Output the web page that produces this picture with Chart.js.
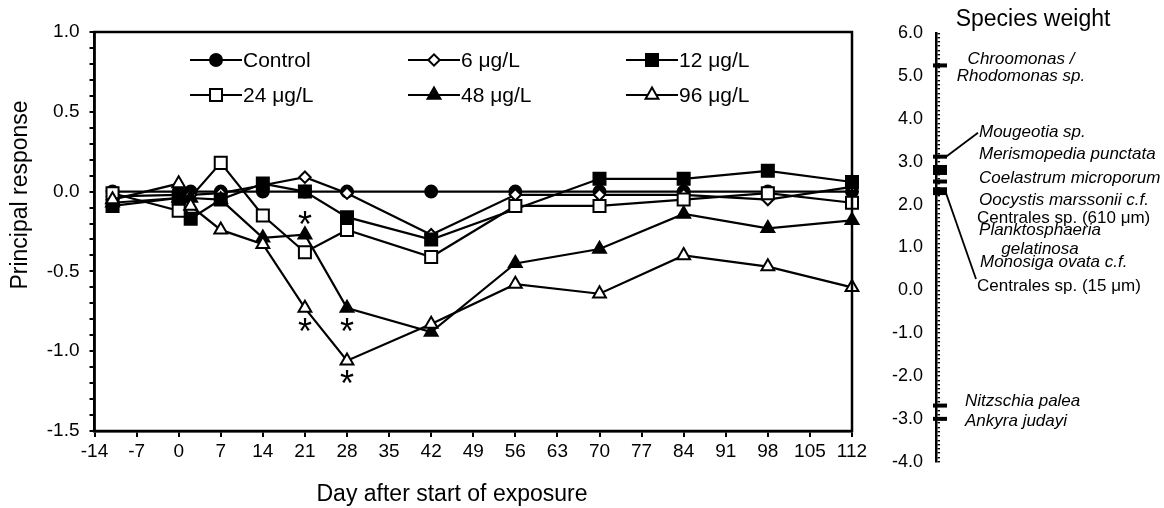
<!DOCTYPE html>
<html>
<head>
<meta charset="utf-8">
<script src="https://cdn.jsdelivr.net/npm/chart.js@4.4.1/dist/chart.umd.min.js"></script>
<style>
  html, body { margin: 0; padding: 0; background: #fff; }
  #wrap { position: relative; width: 1164px; height: 508px; }
  canvas { position: absolute; top: 0; }
  #prc { left: 0; }
  #weights { left: 880px; }
</style>
</head>
<body>
<div id="wrap">
  <canvas id="prc" width="880" height="508"></canvas>
  <canvas id="weights" width="284" height="508"></canvas>
</div>
<script>
const FONT = '"Liberation Sans", Arial, Helvetica, sans-serif';

// ---- Principal response curves ----
const days = [-11, 0, 2, 7, 14, 21, 28, 42, 56, 70, 84, 98, 112];
const seriesNames = ['Control', '6 μg/L', '12 μg/L', '24 μg/L', '48 μg/L', '96 μg/L'];
const control = [0, 0, 0, 0, 0, 0, 0, 0, 0, 0, 0, 0, 0];
const conc6   = [-0.03, -0.02, -0.02, -0.01, 0.04, 0.09, -0.01, -0.27, -0.02, -0.02, -0.02, -0.05, 0.03];
const conc12  = [-0.09, -0.04, -0.17, -0.05, 0.05, 0.00, -0.16, -0.30, null, 0.08, 0.08, 0.13, 0.06];
const conc24  = [-0.01, -0.12, null, 0.18, -0.15, -0.38, -0.24, -0.41, -0.09, -0.09, -0.05, -0.01, -0.07];
const conc48  = [-0.07, -0.04, -0.04, -0.05, -0.29, -0.27, -0.73, -0.88, -0.45, -0.36, -0.14, -0.23, -0.18];
const conc96  = [-0.05, 0.05, -0.09, -0.24, -0.33, -0.73, -1.06, -0.83, -0.58, -0.64, -0.40, -0.47, -0.60];
const seriesValues = [control, conc6, conc12, conc24, conc48, conc96];

// significant differences from the control (asterisk above or below the point)
const significance = [
  { day: 21, series: '48 μg/L', side: -1 },
  { day: 21, series: '96 μg/L', side: 1 },
  { day: 28, series: '48 μg/L', side: 1 },
  { day: 28, series: '96 μg/L', side: 1 }
];

// axis ticks
const dayTicks = { min: -14, max: 112, step: 7 };
const responseTicks = { min: -1.5, max: 1.0, step: 0.1, labelEvery: 0.5 };

// ---- Species weights ----
const speciesNames = [
  'Chroomonas /\nRhodomonas sp.',
  'Mougeotia sp.',
  'Merismopedia punctata',
  'Coelastrum microporum',
  'Oocystis marssonii c.f.',
  'Centrales sp. (610 μm)',
  'Planktosphaeria\ngelatinosa',
  'Monosiga ovata c.f.',
  'Centrales sp. (15 μm)',
  'Nitzschia palea',
  'Ankyra judayi'
];
const speciesWeights = [5.25, 3.12, 2.88, 2.80, 2.74, 2.54, 2.36, 2.32, 2.27, -2.69, -3.0];
const weightTicks = { min: -4, max: 6, step: 0.1 };

// marker styles per series
const markerStyle = [
  { pointStyle: 'circle',  radius: 6,   fill: '#000' },
  { pointStyle: 'rectRot', radius: 5.7, fill: '#fff' },
  { pointStyle: 'rect',    radius: 8.5, fill: '#000' },
  { pointStyle: 'rect',    radius: 8.5, fill: '#fff' },
  { pointStyle: 'triangle', radius: 7.4, fill: '#000' },
  { pointStyle: 'triangle', radius: 7.4, fill: '#fff' }
];

function drawMarker(ctx, style, x, y) {
  ctx.save();
  ctx.fillStyle = style.fill;
  ctx.strokeStyle = '#000';
  ctx.lineWidth = 2;
  Chart.helpers.drawPoint(ctx, { pointStyle: style.pointStyle, radius: style.radius, rotation: 0, borderWidth: 2 }, x, y);
  ctx.restore();
}

const prcDecor = {
  id: 'prcDecor',
  afterDatasetsDraw(chart) {
    const { ctx, chartArea: a, scales } = chart;
    ctx.save();
    // plot frame
    ctx.strokeStyle = '#000';
    ctx.lineWidth = 2.5;
    ctx.strokeRect(a.left, a.top, a.right - a.left, a.bottom - a.top);

    // asterisks
    ctx.fillStyle = '#000';
    ctx.font = '36px ' + FONT;
    ctx.textAlign = 'center';
    ctx.textBaseline = 'alphabetic';
    const m = ctx.measureText('*');
    const glyphMid = (m.actualBoundingBoxAscent - m.actualBoundingBoxDescent) / 2;
    significance.forEach(s => {
      const si = seriesNames.indexOf(s.series);
      const di = days.indexOf(s.day);
      const v = seriesValues[si][di];
      const x = scales.x.getPixelForValue(s.day);
      const y = scales.y.getPixelForValue(v) + s.side * 16.5;
      ctx.fillText('*', x, y + glyphMid);
    });
    ctx.restore();
  },
  afterDraw(chart) {
    const { ctx } = chart;
    ctx.save();
    // legend: three columns, two rows
    const colStart = [190, 408, 626];
    const rowY = [60, 95];
    ctx.font = '21px ' + FONT;
    ctx.textBaseline = 'middle';
    ctx.textAlign = 'left';
    seriesNames.forEach((name, i) => {
      const x0 = colStart[i % 3];
      const y = rowY[Math.floor(i / 3)];
      ctx.strokeStyle = '#000';
      ctx.lineWidth = 2.2;
      ctx.beginPath();
      ctx.moveTo(x0, y);
      ctx.lineTo(x0 + 52, y);
      ctx.stroke();
      drawMarker(ctx, markerStyle[i], x0 + 26, y);
      ctx.fillStyle = '#000';
      ctx.fillText(name, x0 + 53, y + 1);
    });

    // axis titles
    ctx.font = '23px ' + FONT;
    ctx.textAlign = 'center';
    ctx.textBaseline = 'middle';
    ctx.fillText('Day after start of exposure', 452, 495);
    ctx.translate(21, 195);
    ctx.rotate(-Math.PI / 2);
    ctx.fillText('Principal response', 0, 0);
    ctx.restore();
  }
};

const prcDatasets = seriesNames.map((name, i) => ({
  label: name,
  data: days.map((d, j) => ({ x: d, y: seriesValues[i][j] })),
  borderColor: '#000',
  borderWidth: 2.2,
  backgroundColor: markerStyle[i].fill,
  pointBackgroundColor: markerStyle[i].fill,
  pointBorderColor: '#000',
  pointBorderWidth: 2,
  pointStyle: markerStyle[i].pointStyle,
  pointRadius: markerStyle[i].radius,
  pointHoverRadius: markerStyle[i].radius,
  tension: 0,
  spanGaps: true,
  clip: false,
  order: seriesNames.length - 1 - i
}));

const isMultiple = (v, step) => Math.abs(v / step - Math.round(v / step)) < 1e-6;
const fmt1 = v => (Math.abs(v) < 1e-9 ? 0 : v).toFixed(1);

new Chart(document.getElementById('prc'), {
  type: 'line',
  data: { datasets: prcDatasets },
  options: {
    responsive: false,
    animation: false,
    events: [],
    layout: { padding: { left: 0, top: 32, right: 28, bottom: 0 } },
    plugins: { legend: { display: false }, tooltip: { enabled: false } },
    scales: {
      x: {
        type: 'linear',
        min: dayTicks.min,
        max: dayTicks.max,
        ticks: {
          stepSize: dayTicks.step,
          autoSkip: false,
          maxRotation: 0,
          color: '#000',
          padding: 3,
          font: { family: FONT, size: 19 },
          callback: v => String(v)
        },
        grid: { drawOnChartArea: false, drawTicks: true, tickLength: 6, tickWidth: 2, tickColor: '#000', color: '#000', lineWidth: 2 },
        border: { color: '#000', width: 2.5 },
        afterFit: s => { s.height = 77; }
      },
      y: {
        min: responseTicks.min,
        max: responseTicks.max,
        ticks: {
          stepSize: responseTicks.step,
          autoSkip: false,
          color: '#000',
          padding: 10,
          font: { family: FONT, size: 19 },
          callback: v => isMultiple(v, responseTicks.labelEvery) ? fmt1(v) : ''
        },
        grid: { drawOnChartArea: false, drawTicks: true, tickLength: 5, tickWidth: 2, tickColor: '#000', color: '#000', lineWidth: 2 },
        border: { color: '#000', width: 2.5 },
        afterFit: s => { s.width = 94.5; }
      }
    }
  },
  plugins: [prcDecor]
});

// ---- Species weight panel ----
// label placement: y in weight units, horizontal offset from the axis
const speciesLabelLayout = [
  { at: 5.19, dx: 85, align: 'center', italic: true, gap: 16.5 },
  { at: 3.70, dx: 43, align: 'left', italic: true, leader: [-1, 1] },
  { at: 3.18, dx: 43, align: 'left', italic: true },
  { at: 2.62, dx: 43, align: 'left', italic: true },
  { at: 2.11, dx: 43, align: 'left', italic: true },
  { at: 1.68, dx: 41, align: 'left', italic: false },
  { at: 1.19, dx: 104, align: 'center', italic: true, gap: 19 },
  { at: 0.65, dx: 44, align: 'left', italic: true },
  { at: 0.10, dx: 41, align: 'left', italic: false, leader: [-1, -7] },
  { at: -2.58, dx: 29, align: 'left', italic: true },
  { at: -3.06, dx: 29, align: 'left', italic: true }
];

const weightDecor = {
  id: 'weightDecor',
  afterDraw(chart) {
    const { ctx, chartArea: a, scales } = chart;
    const axisX = a.left;
    ctx.save();
    ctx.fillStyle = '#000';
    ctx.strokeStyle = '#000';
    ctx.font = '23px ' + FONT;
    ctx.textAlign = 'center';
    ctx.textBaseline = 'middle';
    ctx.fillText('Species weight', 153, 20);

    ctx.textBaseline = 'middle';
    speciesNames.forEach((name, i) => {
      const L = speciesLabelLayout[i];
      ctx.font = (L.italic ? 'italic ' : '') + '17px ' + FONT;
      ctx.textAlign = L.align;
      const lines = name.split('\n');
      const cy = scales.y.getPixelForValue(L.at);
      const gap = L.gap || 17;
      const top = cy - gap * (lines.length - 1) / 2;
      lines.forEach((ln, k) => ctx.fillText(ln, axisX + L.dx, top + k * gap));
      if (L.leader) {
        const markY = scales.y.getPixelForValue(speciesWeights[i]);
        ctx.lineWidth = 1.8;
        ctx.beginPath();
        ctx.moveTo(axisX + 10, markY);
        ctx.lineTo(axisX + L.dx + L.leader[0], cy + L.leader[1]);
        ctx.stroke();
      }
    });
    ctx.restore();
  }
};

new Chart(document.getElementById('weights'), {
  type: 'scatter',
  data: {
    datasets: [{
      label: 'Species weight',
      data: speciesWeights.map(w => ({ x: 1, y: w })),
      pointStyle: 'line',
      pointRadius: 7,
      pointHoverRadius: 7,
      borderColor: '#000',
      pointBorderColor: '#000',
      pointBorderWidth: 4,
      clip: false
    }]
  },
  options: {
    responsive: false,
    animation: false,
    events: [],
    layout: { padding: { left: 0, top: 33.3, right: 224, bottom: 46.3 } },
    plugins: { legend: { display: false }, tooltip: { enabled: false } },
    scales: {
      x: { type: 'linear', min: 0, max: 1, display: false },
      y: {
        min: weightTicks.min,
        max: weightTicks.max,
        ticks: {
          stepSize: weightTicks.step,
          autoSkip: false,
          color: '#000',
          padding: 13,
          font: { family: FONT, size: 18 },
          callback: v => isMultiple(v, 1) ? fmt1(v) : ''
        },
        grid: { drawOnChartArea: true, drawTicks: false, color: '#000', lineWidth: 1.4 },
        border: { color: '#000', width: 2.5 },
        afterFit: s => { s.width = 56; }
      }
    }
  },
  plugins: [weightDecor]
});
</script>
</body>
</html>
